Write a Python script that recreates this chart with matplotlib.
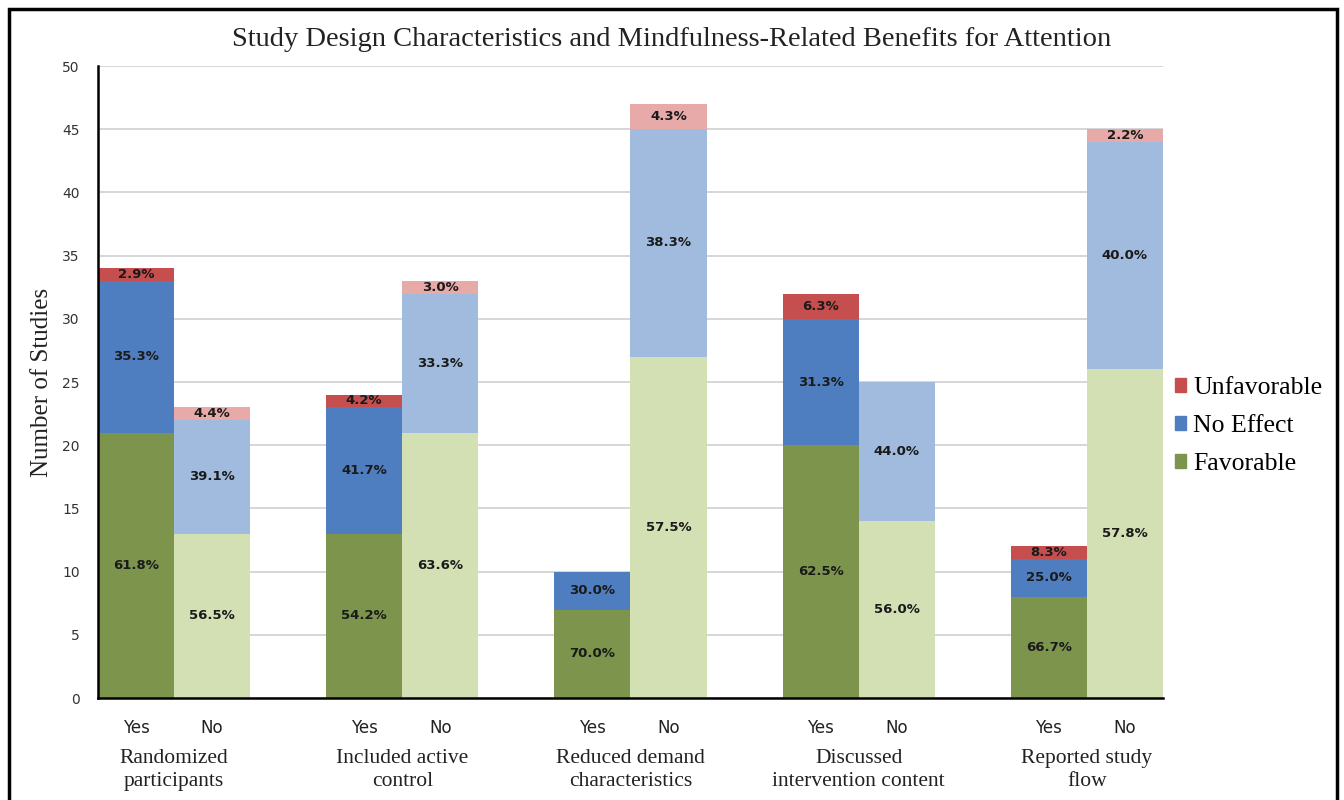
import matplotlib.pyplot as plt
import numpy as np
from matplotlib.patches import Patch, Rectangle

# Data (bars in order: Yes, No for each design characteristic)
groups = ["Randomized\nparticipants", "Included active\ncontrol", "Reduced demand\ncharacteristics",
          "Discussed\nintervention content", "Reported study\nflow"]
bar_labels = ["Yes", "No"] * 5

favorable = [21, 13, 13, 21, 7, 27, 20, 14, 8, 26]
no_effect = [12, 9, 10, 11, 3, 18, 10, 11, 3, 18]
unfavorable = [1, 1, 1, 1, 0, 2, 2, 0, 1, 1]

fav_text = ["61.8%", "56.5%", "54.2%", "63.6%", "70.0%", "57.5%", "62.5%", "56.0%", "66.7%", "57.8%"]
noeff_text = ["35.3%", "39.1%", "41.7%", "33.3%", "30.0%", "38.3%", "31.3%", "44.0%", "25.0%", "40.0%"]
unfav_text = ["2.9%", "4.4%", "4.2%", "3.0%", "", "4.3%", "6.3%", "", "8.3%", "2.2%"]

# colours: dark for "Yes", light for "No"
fav_cols = ["#7D944D", "#D3E0B4"]
noeff_cols = ["#4F7EC0", "#A1BBDF"]
unfav_cols = ["#C44F4E", "#E8A9A9"]

serif = ["Liberation Serif", "DejaVu Serif"]
sans = ["DejaVu Sans"]

fig = plt.figure(figsize=(13.44, 8), dpi=100)
ax = fig.add_axes([0.0729, 0.1275, 0.7924, 0.79])

centers = np.arange(5) * 3
x = np.ravel([[c - 0.5, c + 0.5] for c in centers])
shade = [i % 2 for i in range(10)]

fav = np.array(favorable)
noe = np.array(no_effect)
unf = np.array(unfavorable)

ax.bar(x, fav, width=1.0, color=[fav_cols[s] for s in shade], zorder=2)
ax.bar(x, noe, width=1.0, bottom=fav, color=[noeff_cols[s] for s in shade], zorder=2)
ax.bar(x, unf, width=1.0, bottom=fav + noe, color=[unfav_cols[s] for s in shade], zorder=2)

lbl_kw = dict(ha="center", va="center", fontsize=9.5, fontweight="bold", color="#1a1a1a",
              family=sans, zorder=3)
for i in range(10):
    ax.text(x[i], fav[i] / 2, fav_text[i], **lbl_kw)
    ax.text(x[i], fav[i] + noe[i] / 2, noeff_text[i], **lbl_kw)
    if unf[i] > 0:
        ax.text(x[i], fav[i] + noe[i] + unf[i] / 2, unfav_text[i], **lbl_kw)

ax.set_xlim(-1, 13)
ax.set_ylim(0, 50)
ax.set_yticks(range(0, 51, 5))
ax.yaxis.grid(True, color="#d0d0d0", linewidth=1.2, zorder=0)
ax.set_axisbelow(True)
ax.tick_params(axis="y", length=0, pad=13, labelsize=10, labelcolor="#333333")
ax.set_xticks(x)
ax.set_xticklabels(bar_labels, fontsize=12, family=sans, color="#222222")
ax.tick_params(axis="x", length=0, pad=15)
for lab in ax.get_yticklabels():
    lab.set_family(sans)

for side in ["top", "right"]:
    ax.spines[side].set_visible(False)
ax.spines["left"].set_linewidth(1.8)
ax.spines["bottom"].set_linewidth(1.8)

for c, g in zip(centers, groups):
    ax.text(c, -0.081, g, transform=ax.get_xaxis_transform(), ha="center", va="top",
            fontsize=15.5, family=serif, color="#222222", linespacing=1.25)

ax.set_ylabel("Number of Studies", fontsize=18, family=serif, color="#222222", labelpad=7)
fig.text(0.5, 0.95, "Study Design Characteristics and Mindfulness-Related Benefits for Attention",
         ha="center", va="center", fontsize=20.5, family=serif, color="#222222")

handles = [Patch(color=unfav_cols[0], label="Unfavorable"),
           Patch(color=noeff_cols[0], label="No Effect"),
           Patch(color=fav_cols[0], label="Favorable")]
fig.legend(handles=handles, loc="center left", bbox_to_anchor=(0.857, 0.4675), frameon=False,
           prop={"family": serif, "size": 18.5}, handlelength=0.45, handleheight=0.45,
           handletextpad=0.25, labelspacing=0.62)

# outer frame
fig.patches.append(Rectangle((0.0066, -0.01), 0.9882, 0.999, fill=False,
                             edgecolor="black", linewidth=2.5, transform=fig.transFigure, figure=fig))

fig.savefig("out.png", dpi=100)
